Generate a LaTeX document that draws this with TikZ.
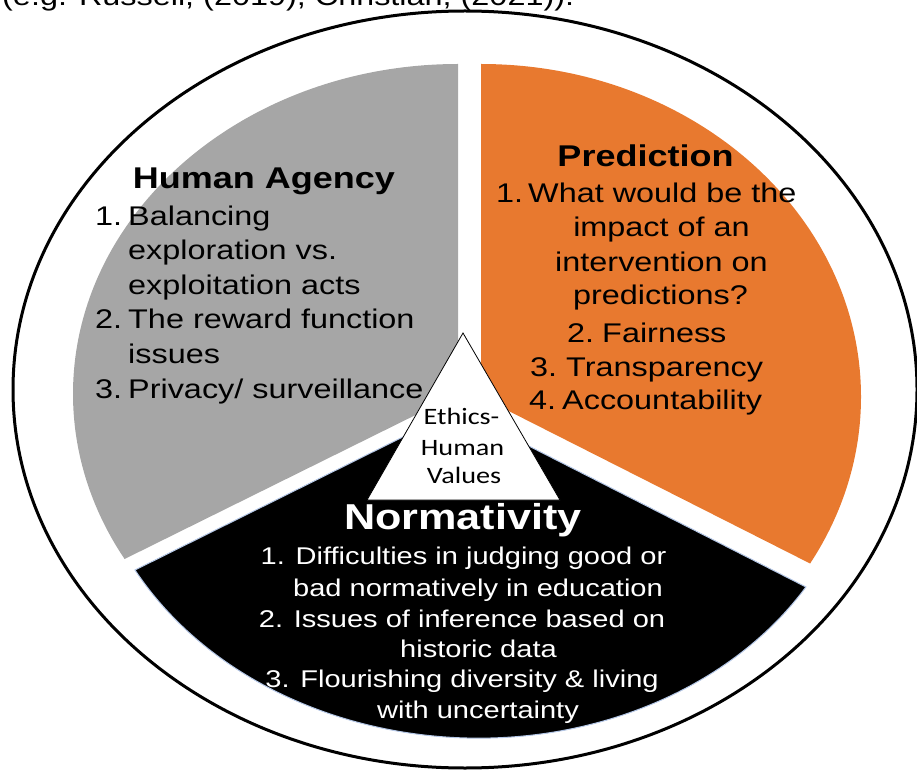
\documentclass[tikz,border=0pt]{standalone}
\usepackage{fontspec}
\setmainfont{Liberation Sans}[FakeStretch=1.2]
\newfontfamily\trifont{Carlito}[FakeStretch=1.2]
\definecolor{pgray}{HTML}{A6A6A6}
\definecolor{porange}{HTML}{E8792F}
\definecolor{pedge}{HTML}{B4C7E7}
\begin{document}
\begin{tikzpicture}[x=1pt,y=1pt,
  body/.style={inner sep=0pt, font=\fontsize{27}{32}\selectfont},
  head/.style={inner sep=0pt, font=\fontsize{30}{36}\selectfont\bfseries},
  nbody/.style={inner sep=0pt, text=white, font=\fontsize{24.2}{29}\selectfont},
  nhead/.style={inner sep=0pt, text=white, font=\fontsize{36}{42}\selectfont\bfseries},
  tri/.style={inner sep=0pt, font=\trifont\fontsize{23.5}{28}\selectfont}]
\useasboundingbox (0,0) rectangle (917,772);
% clipped citation line at the top
\node[body, anchor=base west] (cite) at (2,766) {(e.g. Russell, (2019); Christian, (2021)).};
% outer ellipse
\draw[line width=3pt] (465,382.5) ellipse [x radius=452, y radius=378.5];
% sectors
\fill[pgray] (458,378) -- ++(0,330) arc[start angle=90, end angle=210, x radius=385, y radius=330] -- cycle;
\fill[porange] (481,375) -- ++(0,333) arc[start angle=90, end angle=-30, x radius=380, y radius=333] -- cycle;
\begin{scope}[shift={(474.5,352.95)}, rotate=-1.45]
  \filldraw[fill=black, draw=pedge, line width=1pt] (-17.13,8.82) -- (210:387.5 and 319)
    arc[start angle=210, end angle=330, x radius=387.5, y radius=319] -- cycle;
\end{scope}
% Human Agency
\node[head, anchor=base] (gh) at (264,583) {Human Agency};
\node[body, anchor=base west] (g1n) at (95,546) {1.};
\node[body, anchor=base west] (g1a) at (128,546) {Balancing};
\node[body, anchor=base west] (g1b) at (128,512) {exploration vs.};
\node[body, anchor=base west] (g1c) at (128,477) {exploitation acts};
\node[body, anchor=base west] (g2n) at (95,443) {2.};
\node[body, anchor=base west] (g2a) at (128,443) {The reward function};
\node[body, anchor=base west] (g2b) at (128,409) {issues};
\node[body, anchor=base west] (g3n) at (95,374) {3.};
\node[body, anchor=base west] (g3a) at (128,374) {Privacy/ surveillance};
% Prediction
\node[head, anchor=base] (oh) at (645.5,605) {Prediction};
\node[body, anchor=base west] (o1n) at (496,569) {1.};
\node[body, anchor=base west] (o1a) at (528,569) {What would be the};
\node[body, anchor=base] (o1b) at (661.5,535) {impact of an};
\node[body, anchor=base] (o1c) at (661.5,500) {intervention on};
\node[body, anchor=base] (o1d) at (660.5,467) {predictions?};
\node[body, anchor=base west] (o2n) at (567,430) {2.};
\node[body, anchor=base west] (o2a) at (602,430) {Fairness};
\node[body, anchor=base west] (o3n) at (530,396) {3.};
\node[body, anchor=base west] (o3a) at (566,396) {Transparency};
\node[body, anchor=base west] (o4n) at (529,363) {4.};
\node[body, anchor=base west] (o4a) at (562,363) {Accountability};
% triangle
\filldraw[fill=white, draw=black, line width=0.8pt] (463,439) -- (367,272) -- (560,272) -- cycle;
\node[tri, anchor=base] (t1) at (461.5,348) {Ethics-};
\node[tri, anchor=base] (t2) at (462.5,317) {Human};
\node[tri, anchor=base] (t3) at (464,289) {Values};
% Normativity
\node[nhead, anchor=base] (nh) at (463,243) {Normativity};
\node[nbody, anchor=base] (n1a) at (463.5,208) {1. Difficulties in judging good or};
\node[nbody, anchor=base] (n1b) at (478,176) {bad normatively in education};
\node[nbody, anchor=base] (n2a) at (462,145) {2. Issues of inference based on};
\node[nbody, anchor=base] (n2b) at (478.5,115) {historic data};
\node[nbody, anchor=base] (n3a) at (462,85) {3. Flourishing diversity \& living};
\node[nbody, anchor=base] (n3b) at (478,54) {with uncertainty};
\end{tikzpicture}
\end{document}
